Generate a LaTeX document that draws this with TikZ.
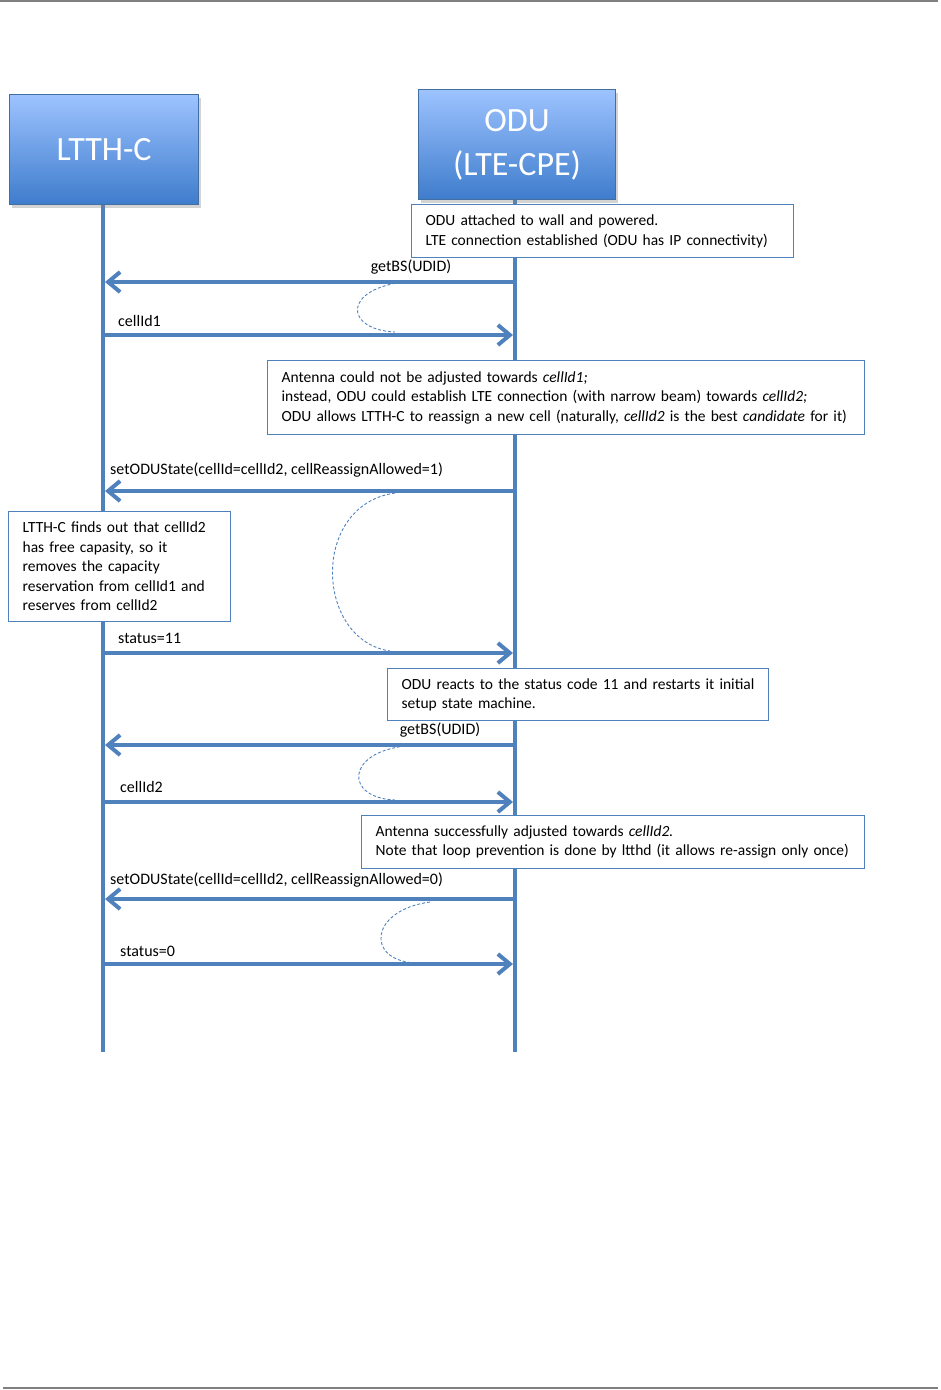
\documentclass[tikz,border=0pt]{standalone}
\usepackage{fontspec}
\setmainfont{Carlito}
\usetikzlibrary{arrows.meta,shadows}
\definecolor{lifeblue}{HTML}{4F81BD}
\definecolor{topblue}{HTML}{9DC3FF}
\definecolor{botblue}{HTML}{3E7CCC}
\definecolor{pagegray}{HTML}{808080}
\tikzset{
  actor/.style={draw=lifeblue!85!black, line width=1.2pt, top color=topblue, bottom color=botblue,
    text=white, font=\fontsize{34}{40}\selectfont, align=center,
    minimum width=189pt, minimum height=110pt, anchor=north west, inner sep=0pt,
    drop shadow={shadow xshift=2pt, shadow yshift=-3pt, opacity=0.35}},
  lifeline/.style={lifeblue, line width=4pt},
  msg/.style={lifeblue, line width=4pt, -{Straight Barb[length=12pt,width=20pt]}},
  msglabel/.style={font=\fontsize{16}{19}\selectfont, inner sep=0pt},
  note/.style={draw=lifeblue, line width=1.3pt, fill=white, anchor=north west,
    font=\fontsize{15.5}{19.5}\selectfont, align=left, inner xsep=14pt, inner ysep=0pt},
  loopcurve/.style={lifeblue, line width=0.9pt, dash pattern=on 3pt off 2pt},
}
\begin{document}
\begin{tikzpicture}[x=1pt,y=-1pt]
\useasboundingbox (0,0) rectangle (941,1390);
% page lines
\draw[pagegray, line width=2pt] (0,1) -- (938,1);
\draw[pagegray, line width=2pt] (3,1388) -- (938,1388);

% lifelines
\coordinate (Ltop) at (103,204);
\coordinate (Lbot) at (103,1052);
\coordinate (Otop) at (515,199);
\coordinate (Obot) at (515,1052);
\draw[lifeline] (Ltop) -- (Lbot);
\draw[lifeline] (Otop) -- (Obot);

% actors
\node[actor] (ltth) at (9,94) {LTTH-C};
\node[actor, minimum width=197pt] (odu) at (418,89) {ODU\\[4pt](LTE-CPE)};

% note 1
\node[note, minimum width=382pt, minimum height=53pt, text width=354pt] (n1) at (411,204)
  {ODU attached to wall and powered.\\LTE connection established (ODU has IP connectivity)};

% msg 1 getBS
\coordinate (O1) at (515,282); \coordinate (L1) at (105,282);
\draw[msg] (O1) -- (L1);
\node[msglabel] (m1) at (411,267) {getBS(UDID)};
\draw[loopcurve] (410,281) .. controls (340,288) and (345,330) .. (395,332);

% msg 2 cellId1
\coordinate (L2) at (103,335); \coordinate (O2) at (513,335);
\draw[msg] (L2) -- (O2);
\node[msglabel, anchor=west] (m2) at (118,321) {cellId1};

% note 2
\node[note, minimum width=597pt, minimum height=74pt, text width=569pt] (n2) at (267,360)
  {Antenna could not be adjusted towards \textit{cellId1;}\\
   instead, ODU could establish LTE connection (with narrow beam) towards \textit{cellId2;}\\
   ODU allows LTTH-C to reassign a new cell (naturally, \textit{cellId2} is the best \textit{candidate} for it)};

% msg 3 setODUState
\coordinate (O3) at (515,491); \coordinate (L3) at (105,491);
\draw[msg] (O3) -- (L3);
\node[msglabel, anchor=west] (m3) at (110,470) {setODUState(cellId=cellId2, cellReassignAllowed=1)};
\draw[loopcurve] (395,493) .. controls (310,505) and (315,640) .. (390,651);

% note LTTH-C
\node[note, minimum width=222pt, minimum height=110pt, text width=194pt] (n3) at (8,511)
  {LTTH-C finds out that cellId2\\has free capasity, so it\\removes the capacity\\reservation from cellId1 and\\reserves from cellId2};

% msg 4 status=11
\coordinate (L4) at (103,653); \coordinate (O4) at (513,653);
\draw[msg] (L4) -- (O4);
\node[msglabel, anchor=west] (m4) at (118,638) {status=11};

% note 4
\node[note, minimum width=381pt, minimum height=52pt, text width=353pt] (n4) at (387,668)
  {ODU reacts to the status code 11 and restarts it initial\\setup state machine.};

% msg 5 getBS
\coordinate (O5) at (515,745); \coordinate (L5) at (105,745);
\draw[msg] (O5) -- (L5);
\node[msglabel] (m5) at (440,730) {getBS(UDID)};
\draw[loopcurve] (405,746) .. controls (345,753) and (345,798) .. (395,800);

% msg 6 cellId2
\coordinate (L6) at (103,802); \coordinate (O6) at (513,802);
\draw[msg] (L6) -- (O6);
\node[msglabel, anchor=west] (m6) at (120,787) {cellId2};

% note 5
\node[note, minimum width=503pt, minimum height=53pt, text width=475pt] (n5) at (361,815)
  {Antenna successfully adjusted towards \textit{cellId2.}\\Note that loop prevention is done by ltthd (it allows re-assign only once)};

% msg 7 setODUState
\coordinate (O7) at (515,899); \coordinate (L7) at (105,899);
\draw[msg] (O7) -- (L7);
\node[msglabel, anchor=west] (m7) at (110,880) {setODUState(cellId=cellId2, cellReassignAllowed=0)};
\draw[loopcurve] (430,902) .. controls (370,910) and (365,960) .. (415,963);

% msg 8 status=0
\coordinate (L8) at (103,964); \coordinate (O8) at (513,964);
\draw[msg] (L8) -- (O8);
\node[msglabel, anchor=west] (m8) at (120,951) {status=0};
\end{tikzpicture}
\end{document}
